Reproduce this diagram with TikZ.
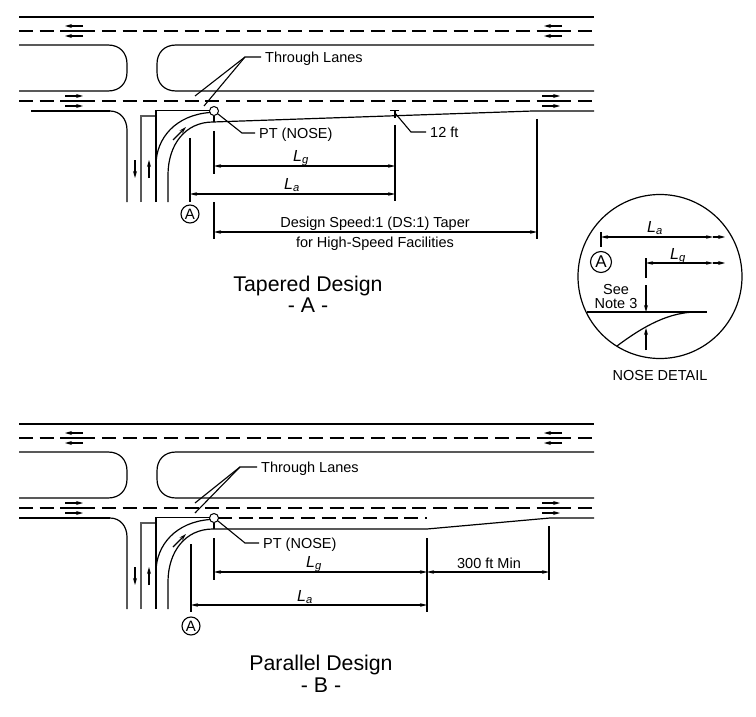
\documentclass[tikz,border=0pt]{standalone}
\usepackage{fontspec}
\setmainfont{Liberation Sans}
\usetikzlibrary{arrows.meta}
\tikzset{
  road/.style={line width=1.2pt},
  lanedash/.style={line width=1.2pt, dash pattern=on 14pt off 6.7pt},
  curb/.style={line width=1.2pt, gray!70!black},
  laneflow/.style={line width=1.1pt, -{Stealth[length=7pt,width=4pt]}},
  dimline/.style={line width=1.1pt, {Stealth[length=7pt,width=3.6pt]}-{Stealth[length=7pt,width=3.6pt]}},
  dimtick/.style={line width=1.3pt},
  leader/.style={line width=1.1pt},
  txt/.style={font=\fontsize{14.5}{16}\selectfont, inner sep=0pt, text height=10.5pt, text depth=0pt},
  leadtxt/.style={txt, anchor=west, inner xsep=4pt},
  dimtxt/.style={font=\fontsize{16}{17}\selectfont, inner sep=0pt},
  title/.style={font=\fontsize{21.3}{23}\selectfont, inner sep=0pt, text height=15pt, text depth=0pt},
  mark circle/.style={circle, draw, line width=1.1pt, minimum size=18pt, inner sep=0pt, font=\fontsize{15}{16}\selectfont}
}
\newcommand{\dimL}[1]{\textit{L}\textsubscript{\textit{#1}}}
\begin{document}
\begin{tikzpicture}[x=1pt, y=-1pt]
\useasboundingbox (0, 0) rectangle (756, 717);
% both layouts share the highway and the side road
\foreach \dy in {0, 407} {
  \begin{scope}[yshift=-\dy pt]
  \draw[road] (19, 17) -- (594, 17);
  \draw[lanedash] (19, 31) -- (594, 31);
  \draw[road] (61, 31) -- (83, 31);
  \draw[road] (539, 31) -- (562, 31);
  \draw[road] (19, 45) -- (108, 45) .. controls (120, 45) and (127, 53) .. (127, 64) -- (127, 72) .. controls (127, 83) and (120, 91) .. (108, 91) -- (19, 91);
  \draw[road] (594, 45) -- (176, 45) .. controls (164, 45) and (157, 53) .. (157, 64) -- (157, 72) .. controls (157, 83) and (164, 91) .. (176, 91) -- (594, 91);
  \draw[lanedash] (19, 101) -- (594, 101);
  \draw[road] (61, 101) -- (83, 101);
  \draw[road] (539, 101) -- (562, 101);
  \draw[road] (110, 111) .. controls (120, 111) and (127, 119) .. (127, 130) -- (127, 202);
  \draw[curb] (141, 202) -- (141, 116) -- (156, 116);
  \draw[road] (156, 202) -- (156, 110.5) -- (210, 110.5);
  \draw[road] (156, 165) .. controls (156, 138) and (176, 115) .. (210, 112.5);
  \draw[road] (168, 202) -- (168, 175) .. controls (168, 145) and (185, 122) .. (213, 122);
  \node (nose) [circle, draw, line width=1pt, minimum size=9pt, inner sep=0pt] at (214, 111) {};
  \draw[leader] (nose.south) -- (214, 122);
  % lane arrows
  \foreach \ay in {26, 36} {
    \draw[laneflow] (83, \ay) -- (65, \ay);
    \draw[laneflow] (562, \ay) -- (544, \ay);
  }
  \foreach \ay in {96, 106} {
    \draw[laneflow] (65, \ay) -- (83, \ay);
    \draw[laneflow] (542, \ay) -- (560, \ay);
  }
  \draw[laneflow] (135, 160) -- (135, 178);
  \draw[laneflow] (149, 178) -- (149, 160);
  \draw[laneflow] (173, 140) -- (186, 127);
  \end{scope}
}
% tapered design
\draw[road] (31, 111) -- (110, 111);
\draw[road] (213, 122) -- (533, 111) -- (594, 111);
\node (thruA) [leadtxt] at (261, 57) {Through Lanes};
\coordinate (thruAknee) at (245, 57);
\draw[leader] (thruA.west) -- (thruAknee) -- (195, 96);
\draw[leader] (thruAknee) -- (204, 106);
\node (ptA) [leadtxt] at (255, 133) {PT (NOSE)};
\draw[leader] (ptA.west) -- (242, 133) -- (218, 114);
\node (taperA) [leadtxt] at (426, 132) {12 ft};
\draw[leader] (taperA.west) -- (411, 132) -- (395, 113);
\draw[dimtick] (390, 110.5) -- (399, 110.5);
\draw[dimtick] (395, 110.5) -- (395, 118);
\draw[dimtick] (214, 131) -- (214, 174);
\draw[dimtick] (214, 202) -- (214, 239);
\draw[dimtick] (190, 138) -- (190, 202);
\draw[dimtick] (395, 125) -- (395, 201);
\draw[dimtick] (537, 119) -- (537, 239);
\draw[dimline] (214, 166) -- (395, 166);
\draw[dimline] (190, 194) -- (395, 194);
\draw[dimline] (214, 232) -- (537, 232);
\node (LgA) [dimtxt] at (301, 158) {\dimL{g}};
\node (LaA) [dimtxt] at (292, 185) {\dimL{a}};
\node (markA) [mark circle] at (190, 214) {A};
\node (speedA) [txt] at (375, 222) {Design Speed:1 (DS:1) Taper};
\node (speedB) [txt] at (375, 242) {for High-Speed Facilities};
\node (titleA) [title] at (308, 284) {Tapered Design};
\node (subA) [title] at (308, 305) {- A -};
% nose detail
\node (detail) [circle, draw, line width=1.2pt, minimum size=164pt, inner sep=0pt] at (660, 276.5) {};
\draw[dimtick] (601, 232) -- (601, 247);
\draw[dimline] (601, 237) -- (713, 237);
\draw[laneflow] (713, 237) -- (725, 237);
\draw[dimtick] (646, 258) -- (646, 278);
\draw[dimline] (646, 263) -- (713, 263);
\draw[laneflow] (713, 263) -- (725, 263);
\draw[road] (587, 312) -- (707, 312);
\draw[road] (617, 346) .. controls (645, 325) and (670, 312) .. (697, 312);
\draw[laneflow] (646, 285) -- (646, 312);
\draw[laneflow] (646, 350) -- (646, 328);
\node (LaD) [dimtxt] at (655, 228) {\dimL{a}};
\node (LgD) [dimtxt] at (678, 256) {\dimL{g}};
\node (markD) [mark circle, minimum size=21pt, font=\fontsize{17}{18}\selectfont] at (601, 262) {A};
\node (seeD) [txt] at (616, 289) {See};
\node (noteD) [txt] at (616, 303) {Note 3};
\node (labelD) [txt] at (660, 375) {NOSE DETAIL};
% parallel design
\draw[road] (19, 518) -- (110, 518);
\draw[lanedash] (218, 518) -- (427, 518);
\draw[road] (213, 529) -- (427, 529) -- (550, 518) -- (594, 518);
\node (thruB) [leadtxt] at (257, 467) {Through Lanes};
\coordinate (thruBknee) at (240, 467);
\draw[leader] (thruB.west) -- (thruBknee) -- (195, 503);
\draw[leader] (thruBknee) -- (195, 513);
\node (ptB) [leadtxt] at (259, 543) {PT (NOSE)};
\draw[leader] (ptB.west) -- (245, 543) -- (218, 521);
\draw[dimtick] (214, 538) -- (214, 580);
\draw[dimtick] (191, 544) -- (191, 612);
\draw[dimtick] (427, 538) -- (427, 612);
\draw[dimtick] (549, 526) -- (549, 580);
\draw[dimline] (214, 572) -- (427, 572);
\draw[dimline] (191, 605) -- (427, 605);
\draw[dimline] (427, 572) -- (549, 572);
\node (LgB) [dimtxt] at (314, 564) {\dimL{g}};
\node (LaB) [dimtxt] at (305, 597) {\dimL{a}};
\node (minB) [txt] at (489, 563) {300 ft Min};
\node (markB) [mark circle] at (191, 626) {A};
\node (titleB) [title] at (321, 663) {Parallel Design};
\node (subB) [title] at (321, 685) {- B -};
\end{tikzpicture}
\end{document}
